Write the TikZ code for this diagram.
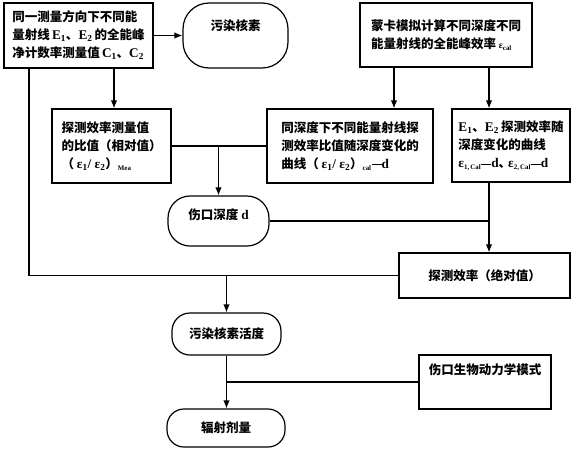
\documentclass[tikz,border=0pt]{standalone}
\usepackage{fontspec}
\setmainfont{Noto Sans CJK SC}
\newfontfamily\latf{Liberation Serif}[Scale=1.06]
\newcommand\rlat[1]{{\latf #1}}
\newcommand\sm[1]{\textsubscript{\fontsize{6.5}{7}\selectfont #1}}
\newcommand\dsh{\rule[3pt]{10pt}{0.9pt}}
\usetikzlibrary{arrows.meta}
\begin{document}
\begin{tikzpicture}[x=1pt,y=-1pt,
  every node/.style={font={\fontsize{12.5}{18}\selectfont\bfseries}, inner sep=0pt, line width=1.2pt},
  box/.style={draw, rectangle, align=left},
  rbox/.style={draw, rectangle, rounded corners=#1, align=center},
  conn/.style={line width=1.2pt},
  arr/.style={line width=1.2pt, -{Latex[length=8pt,width=6.5pt]}}]
\useasboundingbox (0,0) rectangle (575,450);
\node[box, minimum width=149pt, minimum height=65pt] (A) at (78.5,35.5)
  {同一测量方向下不同能\\量射线\,\rlat{E\textsubscript{1}}、\rlat{E\textsubscript{2}}\,的全能峰\\净计数率测量值\,\rlat{C\textsubscript{1}}、\rlat{C\textsubscript{2}}};
\node[rbox=26pt, minimum width=105pt, minimum height=65pt, text depth=21.5pt] (B) at (235.5,35.5) {污染核素};
\node[box, minimum width=172pt, minimum height=64pt] (C) at (446,35)
  {蒙卡模拟计算不同深度不同\\能量射线的全能峰效率 \rlat{{\fontsize{9}{9}\selectfont ε}\sm{cal}}};
\node[box, minimum width=119pt, minimum height=74pt] (D) at (111.5,146)
  {探测效率测量值\\的比值（相对值）\\（ \rlat{ε\textsubscript{1}/ ε\textsubscript{2}}）\rlat{\sm{Mea}}};
\node[box, minimum width=166pt, minimum height=74pt] (E) at (350,146)
  {同深度下不同能量射线探\\测效率比值随深度变化的\\曲线（ \rlat{ε\textsubscript{1}/ ε\textsubscript{2}}）\rlat{\sm{cal}\dsh d}};
\node[box, minimum width=118pt, minimum height=73pt] (F) at (511,145.5)
  {\rlat{E\textsubscript{1}}、\rlat{E\textsubscript{2}}\,探测效率随\\深度变化的曲线\\\rlat{ε\sm{1,\,Cal}\dsh d}、\kern-3pt\rlat{ε\sm{2,\,Cal}\dsh d}};
\node[rbox=22pt, minimum width=101pt, minimum height=50pt, text depth=13.5pt] (G) at (218.5,221) {伤口深度 \rlat{d}};
\node[box, minimum width=171pt, minimum height=45pt] (H) at (484.5,275.5) {探测效率（绝对值）};
\node[rbox=18pt, minimum width=109pt, minimum height=42pt] (I) at (226.5,334) {污染核素活度};
\node[rbox=17pt, minimum width=118pt, minimum height=38pt] (J) at (226,428) {辐射剂量};
\node[box, minimum width=132pt, minimum height=54pt, text depth=25.5pt] (K) at (485,382) {伤口生物动力学模式};
\coordinate (L) at (29,275.5);
\coordinate (ce) at (394,0);
\coordinate (cf) at (489,0);
\coordinate (ad) at (114,0);
% connectors
\draw[arr] (A) -- (B);
\draw[arr] (A.south -| ad) -- (D.north -| ad);
\draw[conn] (A.south -| L) -- (L) -- (H.west);
\draw[arr] (I.north |- H.west) -- (I.north);
\draw[arr] (C.south -| ce) -- (E.north -| ce);
\draw[arr] (C.south -| cf) -- (F.north -| cf);
\draw[conn] (D) -- (E);
\draw[arr] (G.north |- D.east) -- (G.north);
\draw[conn] (G.east) -- (G.east -| cf);
\draw[arr] (F.south -| cf) -- (H.north -| cf);
\draw[arr] (I.south) -- (I.south |- J.north);
\draw[conn] (K.west) -- (K.west -| I.south);
\end{tikzpicture}
\end{document}
